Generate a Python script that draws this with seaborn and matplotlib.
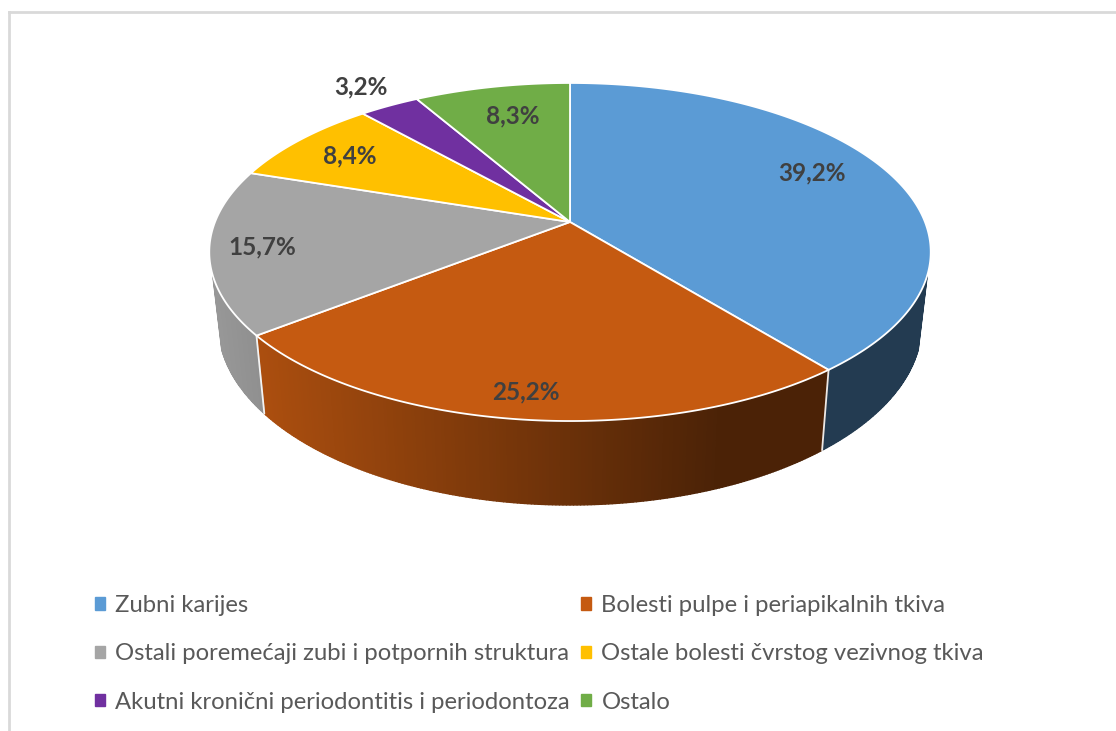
import numpy as np
import seaborn as sns
import matplotlib.pyplot as plt
from matplotlib.collections import PolyCollection
from matplotlib.patches import Patch

categorias = ['Zubni karijes', 'Bolesti pulpe i periapikalnih tkiva',
              'Ostali poremećaji zubi i potpornih struktura', 'Ostale bolesti čvrstog vezivnog tkiva',
              'Akutni kronični periodontitis i periodontoza', 'Ostalo']
udjeli = [39.2, 25.2, 15.7, 8.4, 3.2, 8.3]
oznake = ['39,2%', '25,2%', '15,7%', '8,4%', '3,2%', '8,3%']
boje = ['#5B9BD5', '#C55A11', '#A5A5A5', '#FFC000', '#7030A0', '#70AD47']

# layout in pixels of the picture
CX, CY = 570, 222
R, S, P = 355, 163.7, 0.1775
label_xy = [(812, 173), (526, 392), (262, 247), (350, 156), (361, 87), (513, 116)]

sns.set_theme(style='white')
sns.set_palette(boje)
plt.rcParams['font.family'] = ['Lato', 'DejaVu Sans']


def top_face(theta):
    # perspective view of the disc, theta clockwise from top
    u, v = np.sin(theta), np.cos(theta)
    d = 1 + P * v
    return CX + R * u / d, CY - S * v / d


def bottom_face(theta):
    x, y = top_face(theta)
    return CX + (x - CX) * 0.975, y + 78 + (y - 336) * 0.07


def shade(x):
    return np.clip(0.92 - (x - 210) * 0.54 / 510, 0.38, 0.92)


fig = plt.figure(figsize=(11.16, 7.31), dpi=100)
ax = fig.add_axes([9 / 1116, 0, 1107 / 1116, 719 / 731])
ax.set_xlim(9, 1116)
ax.set_ylim(731, 12)
ax.set_xticks([])
ax.set_yticks([])
for s in ['right', 'bottom']:
    ax.spines[s].set_visible(False)
for s in ['left', 'top']:
    ax.spines[s].set_color('#d9d9d9')
    ax.spines[s].set_linewidth(2)

granice = np.radians(np.cumsum([0] + udjeli) * 3.6)
WALL_A, WALL_B = np.radians(108), np.radians(252)
pal = sns.color_palette(boje)

# side wall, split in thin strips for the shading
for i in range(len(udjeli)):
    a, b = max(granice[i], WALL_A), min(granice[i + 1], WALL_B)
    if a >= b:
        continue
    t = np.linspace(a, b, max(int((b - a) * 120), 2))
    x1, y1 = top_face(t)
    x2, y2 = bottom_face(t)
    polys = [[(x1[k], y1[k]), (x1[k + 1], y1[k + 1]), (x2[k + 1], y2[k + 1]), (x2[k], y2[k])]
             for k in range(len(t) - 1)]
    cols = [tuple(np.array(pal[i]) * shade((x1[k] + x1[k + 1]) / 2)) for k in range(len(t) - 1)]
    ax.add_collection(PolyCollection(polys, facecolors=cols, edgecolors=cols, linewidths=1))

# white seams on the wall
for g in granice[1:-1]:
    if WALL_A < g < WALL_B:
        xa, ya = top_face(g)
        xb, yb = bottom_face(g)
        ax.plot([xa, xb], [ya, yb], color='white', lw=1.3, alpha=0.9)

# top of the pie
for i in range(len(udjeli)):
    t = np.linspace(granice[i], granice[i + 1], 200)
    x, y = top_face(t)
    ax.fill(np.r_[CX, x], np.r_[CY, y], color=boje[i], ec='white', lw=1.3, joinstyle='round')
    ax.text(*label_xy[i], oznake[i], ha='center', va='center', fontsize=17.5,
            fontweight='bold', color='#404040')

# legend fills by column, so rows are taken apart here
red = [0, 2, 4, 1, 3, 5]
handles = [Patch(color=boje[i], label=categorias[i]) for i in red]
ax.legend(handles=handles, ncol=2, loc='upper left', bbox_to_anchor=(0.0775, 0.189),
          frameon=False, fontsize=17.2, labelcolor='#595959', handlelength=0.42, handleheight=0.42,
          handletextpad=0.42, labelspacing=1.14, columnspacing=0.5, borderpad=0, borderaxespad=0)

fig.savefig('out.png', dpi=100)
